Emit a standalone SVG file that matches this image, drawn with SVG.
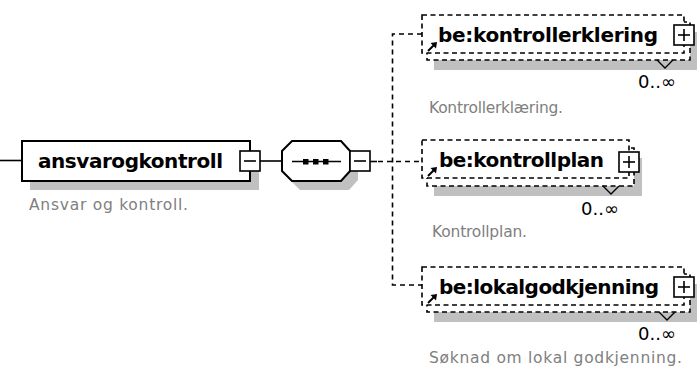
<svg xmlns="http://www.w3.org/2000/svg" width="699" height="374" viewBox="0 0 699 374">
<defs>
<style>
.bg{fill:#ffffff}
.box{fill:#ffffff;stroke:#000;stroke-width:2}
.dbox{fill:#ffffff;stroke:#000;stroke-width:1.6;stroke-dasharray:5 3.5}
.shadow{fill:#c0c0c0}
.conn{fill:none;stroke:#000;stroke-width:1.6}
.dash{stroke-dasharray:5 4}
.sym{fill:none;stroke:#000;stroke-width:1.6}
.title{font-family:"DejaVu Sans","Liberation Sans",sans-serif;font-weight:bold;font-size:20px;fill:#000}
.desc{font-family:"DejaVu Sans","Liberation Sans",sans-serif;font-size:15.5px;fill:#808080}
.mult{font-family:"DejaVu Sans","Liberation Sans",sans-serif;font-size:18px;fill:#000}
.chev{fill:none;stroke:#000;stroke-width:1.3}
</style>
<g id="refArrow">
<line x1="0" y1="0" x2="6" y2="-6" stroke="#000" stroke-width="2"/>
<polygon points="9,-9 2.5,-8 8,-2.5" fill="#000"/>
</g>
<g id="plusBox">
<rect x="0" y="0" width="20" height="20" fill="#fff" stroke="#000" stroke-width="1.6"/>
<line x1="4" y1="10" x2="16" y2="10" stroke="#000" stroke-width="1.6"/>
<line x1="10" y1="4" x2="10" y2="16" stroke="#000" stroke-width="1.6"/>
</g>
<g id="minusBox">
<rect x="0" y="0" width="20" height="20" fill="#fff" stroke="#000" stroke-width="1.6"/>
<line x1="4" y1="10" x2="16" y2="10" stroke="#000" stroke-width="1.6"/>
</g>
</defs>
<rect class="bg" x="0" y="0" width="699" height="374"/>

<g id="connectors">
<line class="conn" x1="0" y1="160.5" x2="22" y2="160.5"/>
<line class="conn" x1="260" y1="161" x2="282" y2="161"/>
<line class="conn" x1="370" y1="161.5" x2="377" y2="161.5"/>
<line class="conn dash" x1="378" y1="161.5" x2="422" y2="161.5"/>
<path class="conn dash" d="M422,34 H392.5 V285 H422"/>
</g>

<g id="ansvarogkontroll">
<rect class="shadow" x="30" y="150" width="229" height="40"/>
<rect class="box" x="22" y="141" width="228" height="40"/>
<use href="#minusBox" x="240" y="151"/>
<text class="title" x="38" y="168" textLength="185">ansvarogkontroll</text>
<text class="desc" x="29" y="210" textLength="159">Ansvar og kontroll.</text>
</g>

<g id="sequence">
<polygon class="shadow" points="290,160 300,150 349,150 358,160 358,180 349,190 300,190 290,180"/>
<polygon class="box" points="282,151 292,141 341,141 350,151 350,171 341,181 292,181 282,171"/>
<line class="sym" x1="292" y1="161.5" x2="341" y2="161.5"/>
<rect x="303" y="159" width="5.5" height="5.5" fill="#000"/>
<rect x="313" y="159" width="5.5" height="5.5" fill="#000"/>
<rect x="323" y="159" width="5.5" height="5.5" fill="#000"/>
<use href="#minusBox" x="350" y="151"/>
</g>

<g id="kontrollerklering">
<rect class="shadow" x="434" y="32" width="263" height="38"/>
<rect class="dbox" x="427" y="22" width="263" height="38"/>
<rect class="dbox" x="422" y="15" width="262" height="38"/>
<use href="#plusBox" x="674" y="25"/>
<text class="title" x="438" y="42" textLength="220">be:kontrollerklering</text>
<use href="#refArrow" x="428" y="51"/>
<polyline class="chev" points="657,60 665,68 673,60"/>
<text class="mult" x="638" y="88">0..∞</text>
<text class="desc" x="429" y="113" textLength="134">Kontrollerklæring.</text>
</g>

<g id="kontrollplan">
<rect class="shadow" x="434" y="158" width="208" height="38"/>
<rect class="dbox" x="427" y="148" width="207" height="38"/>
<rect class="dbox" x="422" y="140" width="207" height="38"/>
<use href="#plusBox" x="619" y="152"/>
<text class="title" x="439" y="167" textLength="165">be:kontrollplan</text>
<use href="#refArrow" x="428" y="176"/>
<polyline class="chev" points="603,186 611,194 619,186"/>
<text class="mult" x="581" y="215">0..∞</text>
<text class="desc" x="432" y="237" textLength="95">Kontrollplan.</text>
</g>

<g id="lokalgodkjenning">
<rect class="shadow" x="434" y="284" width="263" height="38"/>
<rect class="dbox" x="427" y="274" width="263" height="38"/>
<rect class="dbox" x="422" y="267" width="262" height="38"/>
<use href="#plusBox" x="674" y="277"/>
<text class="title" x="439" y="294" textLength="220">be:lokalgodkjenning</text>
<use href="#refArrow" x="428" y="303"/>
<polyline class="chev" points="659,312 667,320 675,312"/>
<text class="mult" x="638" y="340">0..∞</text>
<text class="desc" x="429" y="363" textLength="253">Søknad om lokal godkjenning.</text>
</g>
</svg>
